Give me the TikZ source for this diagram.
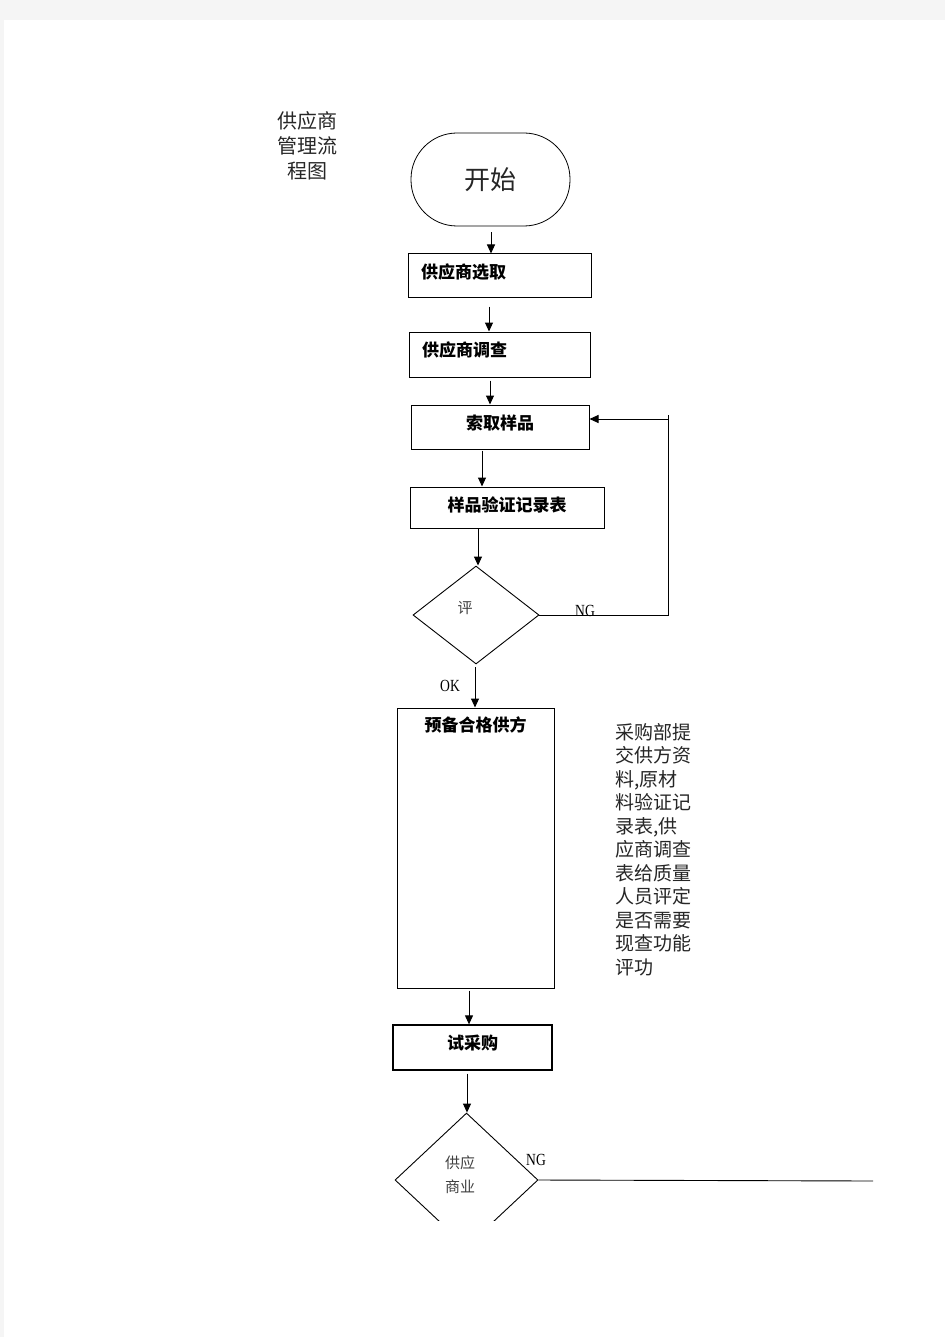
\documentclass[tikz,border=0pt]{standalone}
\usepackage{fontspec}
\setmainfont{Noto Sans CJK SC}
\newfontfamily\latin[FakeStretch=0.8]{Liberation Serif}
\usetikzlibrary{shapes.geometric}
\usetikzlibrary{arrows.meta}
\tikzset{
  box/.style={draw, line width=1pt, inner sep=0pt, font=\fontsize{17}{20}\selectfont\bfseries},
  decide/.style={draw, diamond, line width=0.9pt, inner sep=0pt},
  arr/.style={-{Triangle[length=9pt,width=8pt]}, line width=1pt},
  tag/.style={font=\latin\fontsize{17}{19}\selectfont, inner sep=0pt},
  soft/.style={text=black!75, font=\fontsize{15}{24}\selectfont, align=center}
}
\begin{document}
\begin{tikzpicture}[x=1pt,y=-1pt]
  \fill[black!4] (0,0) rectangle (945,1337);
  \fill[white] (4,20) rectangle (945,1337);
  \clip (4,20) rectangle (945,1220);
  \node(title) [align=center, text=black!85, font=\fontsize{20}{25}\selectfont] at (307,146) {供应商\\管理流\\程图};
  \node(start) [draw, line width=0.8pt, rounded corners=46pt, minimum width=159pt, minimum height=93pt, text=black!85, font=\fontsize{26}{30}\selectfont] at (490.5,179.5) {开始};
  \node(sel) [box, minimum width=183pt, minimum height=44pt, text width=157pt, inner xsep=13pt, align=left, text depth=10pt] at (499.5,276) {供应商选取};
  \node(survey) [box, minimum width=181pt, minimum height=45pt, text width=155pt, inner xsep=13pt, align=left, text depth=10pt] at (499.5,354.5) {供应商调查};
  \node(sample) [box, minimum width=178pt, minimum height=44pt, text depth=10pt] at (500,427) {索取样品};
  \node(record) [box, minimum width=194pt, minimum height=41pt, text depth=7pt] at (507,507.5) {样品验证记录表};
  \node(eval) [decide, minimum width=126pt, minimum height=98pt, label={[soft, xshift=-11pt, yshift=7pt]center:评}] at (476,615) {};
  \node(prep) [box, minimum width=157pt, minimum height=280pt, label={[anchor=north, yshift=-6pt, font=\fontsize{17}{20}\selectfont\bfseries]north:预备合格供方}] at (475.5,848) {};
  \node(note) [anchor=north west, align=left, inner sep=0pt, text=black!85, font=\fontsize{19}{23.5}\selectfont] at (615,723) {采购部提\\交供方资\\料,原材\\料验证记\\录表,供\\应商调查\\表给质量\\人员评定\\是否需要\\现查功能\\评功};
  \node(trial) [box, line width=1.3pt, minimum width=159pt, minimum height=45pt, text depth=10pt] at (472.5,1047.5) {试采购};
  \node(supp) [decide, minimum width=143pt, minimum height=134pt, label={[soft, xshift=-6.5pt, yshift=5pt]center:供应\\商业}] at (466.5,1180) {};
  \coordinate(back) at (668,419);
  \coordinate(far) at (873,1181);
  \draw[arr, shorten <=6pt] ([xshift=0.5pt]start.south) -- ([xshift=0.5pt]start.south |- sel.north);
  \draw[arr, shorten <=8pt] ([xshift=-10.5pt]sel.south) -- ([xshift=-10.5pt]sel.south |- survey.north);
  \draw[arr, shorten <=3pt] ([xshift=-9.5pt]survey.south) -- ([xshift=-9.5pt]survey.south |- sample.north);
  \draw[arr, shorten <=1pt] ([xshift=-18pt]sample.south) -- ([xshift=-18pt]sample.south |- record.north);
  \draw[arr] ([xshift=-29pt]record.south) -- ([xshift=-29pt]record.south |- eval.north);
  \draw[arr, shorten <=3pt] ([xshift=-1pt]eval.south) -- ([xshift=-1pt]eval.south |- prep.north);
  \draw[arr, shorten <=2pt] ([xshift=-6.5pt]prep.south) -- ([xshift=-6.5pt]prep.south |- trial.north);
  \draw[arr, shorten <=3pt] ([xshift=-5.5pt]trial.south) -- ([xshift=-5.5pt]trial.south |- supp.north);
  \draw[line width=0.9pt] (eval.east) -- (eval.east -| back) -- ([yshift=4pt]back);
  \draw[arr] (back) -- (back -| sample.east);
  \draw[line width=0.9pt] (supp.east) -- (far);
  \node(ng1) [tag] at (585,611) {NG};
  \node(ok) [tag] at (450,686) {OK};
  \node(ng2) [tag] at (536,1160) {NG};
\end{tikzpicture}
\end{document}
